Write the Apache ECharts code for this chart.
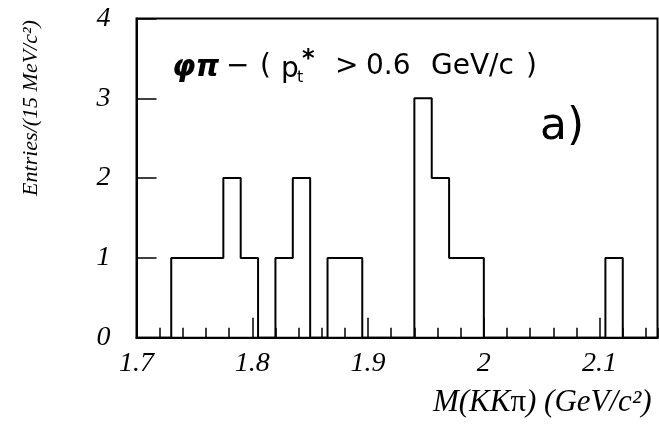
<!DOCTYPE html>
<html><head><meta charset="utf-8">
<script src="https://cdn.jsdelivr.net/npm/echarts@6/dist/echarts.min.js"></script>
<style>html,body{margin:0;padding:0;background:#fff}#c{width:659px;height:431px}</style>
</head><body><div id="c"></div>
<script>
// Histogram: 15 MeV bins, lower edges (GeV/c^2)
const binLowEdges = [1.700,1.715,1.730,1.745,1.760,1.775,1.790,1.805,1.820,1.835,
                     1.850,1.865,1.880,1.895,1.910,1.925,1.940,1.955,1.970,1.985,
                     2.000,2.015,2.030,2.045,2.060,2.075,2.090,2.105,2.120,2.135];
const binUpperEnd = 2.150;
const entries = [0,0,1,1,1,2,1,0,1,2,
                 0,1,1,0,0,0,3,2,1,1,
                 0,0,0,0,0,0,0,1,0,0];
const xRange = [1.7, 2.15];
const yRange = [0, 4];
const xMajorStep = 0.1;
const xMinorStep = 0.02;
const yStep = 1;
const yTitle = 'Entries/(15 MeV/c²)';
const panelLabel = 'a)';

const stepData = binLowEdges.map((x, i) => [x, entries[i]]);
stepData.push([binUpperEnd, 0]);

const serif = 'Liberation Serif';
const sans = 'DejaVu Sans';

const chart = echarts.init(document.getElementById('c'), null, {renderer: 'canvas'});

function t(x, y, text, extra) {
  return {
    type: 'text', x: x, y: y,
    style: Object.assign({text: text, fill: '#000', font: '28px "' + sans + '"',
      verticalAlign: 'middle', align: 'left'}, extra || {})
  };
}

chart.setOption({
  animation: false,
  backgroundColor: '#fff',
  grid: {left: 136.5, right: 1.5, top: 18.5, bottom: 93.3, show: true,
         borderColor: '#000', borderWidth: 2, containLabel: false},
  xAxis: [{
    type: 'value', min: xRange[0], max: xRange[1], interval: xMajorStep,
    position: 'bottom',
    axisLine: {show: true, lineStyle: {color: '#000', width: 2}},
    axisTick: {show: true, inside: true, length: 20, lineStyle: {color: '#000', width: 1.5}},
    axisLabel: {show: true, showMaxLabel: false, margin: 12, color: '#000',
      fontFamily: serif, fontStyle: 'italic', fontSize: 28},
    splitLine: {show: false},
    name: '{i|M(KK}{n|π}{i|) (GeV/c²)}',
    nameLocation: 'end', nameGap: -6,
    nameTextStyle: {align: 'right', verticalAlign: 'top', padding: [50, 0, 0, 0],
      rich: {
        i: {fontFamily: serif, fontStyle: 'italic', fontSize: 31, color: '#000'},
        n: {fontFamily: serif, fontStyle: 'normal', fontSize: 31, color: '#000'}
      }}
  }, {
    type: 'value', min: xRange[0], max: xRange[1], interval: xMinorStep,
    position: 'bottom',
    axisLine: {show: false},
    axisTick: {show: true, inside: true, length: 10, lineStyle: {color: '#000', width: 1.5}},
    axisLabel: {show: false},
    splitLine: {show: false}
  }],
  yAxis: {
    type: 'value', min: yRange[0], max: yRange[1], interval: yStep,
    axisLine: {show: true, lineStyle: {color: '#000', width: 2}},
    axisTick: {show: true, inside: true, length: 20, lineStyle: {color: '#000', width: 1.5}},
    axisLabel: {show: true, margin: 26, color: '#000',
      fontFamily: serif, fontStyle: 'italic', fontSize: 28},
    splitLine: {show: false}
  },
  series: [{
    type: 'line', xAxisIndex: 0, step: 'end', data: stepData,
    symbol: 'none', lineStyle: {color: '#000', width: 2}, silent: true
  }],
  graphic: [
    {type: 'text', x: 31, y: 108, rotation: Math.PI / 2,
     style: {text: yTitle, fill: '#000', fontFamily: serif, fontStyle: 'italic',
       fontSize: 22, align: 'center', verticalAlign: 'middle'}},
    t(172, 68, 'φπ', {font: 'italic bold 30px "' + sans + '"'}),
    t(226, 67, '−'),
    t(260, 67, '('),
    t(281, 70, 'p'),
    t(297, 78, 't', {font: '16px "' + sans + '"'}),
    t(302, 60, '*', {font: 'bold 24px "' + sans + '"'}),
    t(335, 67, '>'),
    t(366, 67, '0.6'),
    t(431, 67, 'GeV/c'),
    t(526, 67, ')'),
    t(540, 128, panelLabel, {font: '44px "' + sans + '"'})
  ]
});
</script></body></html>
